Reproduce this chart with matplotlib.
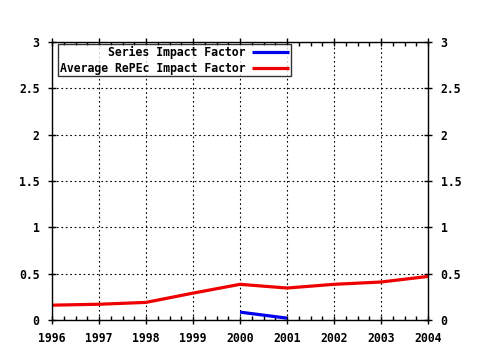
import matplotlib.pyplot as plt
from matplotlib.ticker import MultipleLocator

# impact factor per year
years_series = [2000, 2001]
series_if = [0.085, 0.02]

years_avg = [1996, 1997, 1998, 1999, 2000, 2001, 2002, 2003, 2004]
avg_if = [0.16, 0.17, 0.19, 0.29, 0.385, 0.345, 0.385, 0.41, 0.47]

yticks = [0, 0.5, 1, 1.5, 2, 2.5, 3]
ytick_labels = ['0', '0.5', '1', '1.5', '2', '2.5', '3']

plt.rcParams['font.family'] = ['DejaVu Sans Mono']
plt.rcParams['font.weight'] = 'bold'
plt.rcParams['font.size'] = 8.3

fig = plt.figure(figsize=(4.8, 3.5), dpi=100)
ax = fig.add_axes([52/480, 1 - 320/350, 376/480, 278/350])

ax.plot(years_series, series_if, color='#0000ee', lw=2.3, label='Series Impact Factor', solid_capstyle='butt')
ax.plot(years_avg, avg_if, color='#ee0000', lw=2.3, label='Average RePEc Impact Factor', solid_capstyle='butt')

ax.set_xlim(1996, 2004)
ax.set_ylim(0, 3)
ax.set_xticks(years_avg)
ax.set_xticklabels([str(y) for y in years_avg])
ax.xaxis.set_minor_locator(MultipleLocator(0.25))
ax.set_yticks(yticks)
ax.set_yticklabels(ytick_labels)

ax.grid(True, which='major', color='black', linestyle=(0, (1.5, 2.5)), lw=0.8)
ax.tick_params(which='major', direction='inout', length=6, width=1, top=True, right=True,
               labelright=True, pad=6)
ax.tick_params(which='minor', direction='in', length=3, width=1, top=True, bottom=True)
for s in ax.spines.values():
    s.set_linewidth(1)
    s.set_color('black')

leg = ax.legend(loc='upper left', bbox_to_anchor=(6/376, 1 - 2/278), frameon=True, fancybox=False,
                markerfirst=False, handlelength=3.2, handletextpad=0.6, borderpad=0.15,
                labelspacing=0.25, borderaxespad=0)
leg.get_frame().set_edgecolor('black')
leg.get_frame().set_linewidth(1)
for t in leg.get_texts():
    t.set_ha('right')
leg._legend_box.align = 'right'

fig.savefig('out.png', dpi=100)
